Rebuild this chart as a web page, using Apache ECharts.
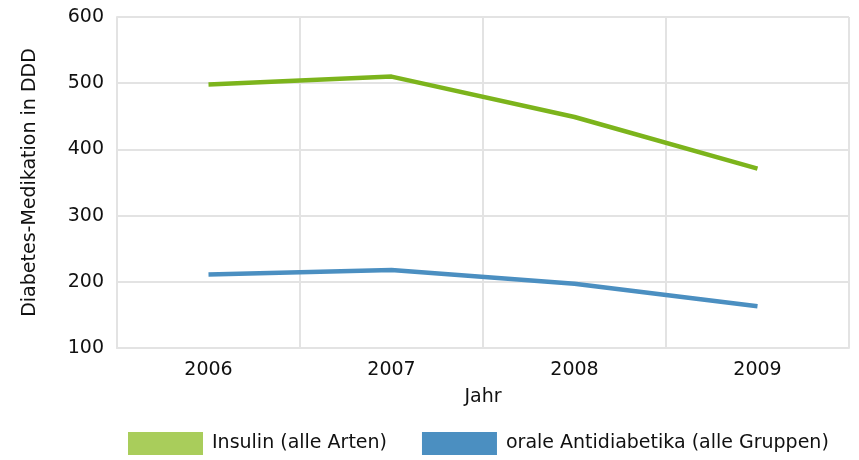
<!DOCTYPE html>
<html><head><meta charset="utf-8">
<script src="https://cdn.jsdelivr.net/npm/echarts@6/dist/echarts.min.js"></script>
<style>html,body{margin:0;padding:0;background:#fff}#c{width:859px;height:460px}</style>
</head><body><div id="c"></div>
<script>
const years = ['2006', '2007', '2008', '2009'];
const insulin = [498, 510, 449, 371];
const oral = [211, 218, 197, 163];
const yTicks = [100, 200, 300, 400, 500, 600];

const font = 'DejaVu Sans';
const chart = echarts.init(document.getElementById('c'));
chart.setOption({
  animation: false,
  textStyle: { fontFamily: font },
  grid: { left: 117, right: 10, top: 17, bottom: 112 },
  legend: {
    top: 432, left: 128, padding: 0,
    itemWidth: 75, itemHeight: 23, itemGap: 35,
    icon: 'rect',
    textStyle: { fontFamily: font, fontSize: 19, color: '#111', padding: [0, 0, 0, 4] },
    data: [
      { name: 'Insulin (alle Arten)', itemStyle: { color: '#a9cd5b' } },
      { name: 'orale Antidiabetika (alle Gruppen)', itemStyle: { color: '#4b8fc1' } }
    ]
  },
  xAxis: {
    type: 'category', data: years, boundaryGap: true,
    name: 'Jahr', nameLocation: 'middle', nameGap: 40,
    nameTextStyle: { fontFamily: font, fontSize: 19, color: '#111' },
    axisLine: { show: true, lineStyle: { color: '#e3e3e3', width: 2 } },
    axisTick: { show: false },
    axisLabel: { fontFamily: font, fontSize: 19, color: '#111', margin: 13 },
    splitLine: { show: true, lineStyle: { color: '#e3e3e3', width: 2 } }
  },
  yAxis: {
    type: 'value', min: yTicks[0], max: yTicks[yTicks.length - 1], interval: 100,
    name: 'Diabetes-Medikation in DDD', nameLocation: 'middle', nameGap: 77,
    nameTextStyle: { fontFamily: font, fontSize: 19, color: '#111' },
    axisLine: { show: true, lineStyle: { color: '#e3e3e3', width: 2 } },
    axisTick: { show: false },
    axisLabel: { fontFamily: font, fontSize: 19, color: '#111', margin: 13 },
    splitLine: { show: true, lineStyle: { color: '#e3e3e3', width: 2 } }
  },
  series: [
    { name: 'Insulin (alle Arten)', type: 'line', data: insulin, showSymbol: false, symbol: 'none',
      itemStyle: { color: '#a9cd5b' }, lineStyle: { color: '#7cb41c', width: 4.5 } },
    { name: 'orale Antidiabetika (alle Gruppen)', type: 'line', data: oral, showSymbol: false, symbol: 'none',
      itemStyle: { color: '#4b8fc1' }, lineStyle: { color: '#4b8fc1', width: 4.5 } }
  ]
});
</script></body></html>
